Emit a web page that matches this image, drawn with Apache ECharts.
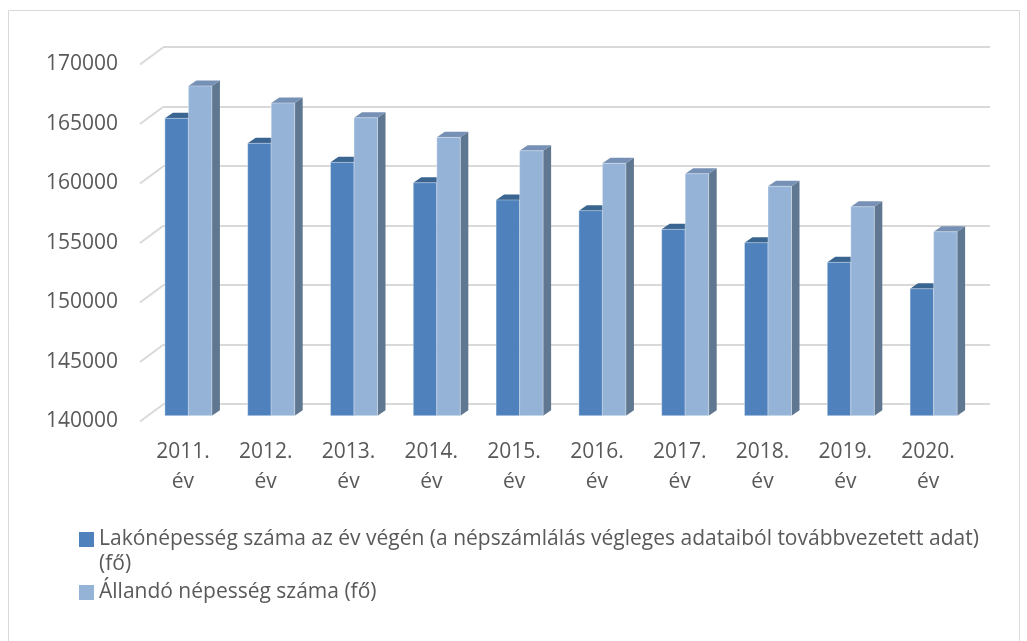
<!DOCTYPE html>
<html>
<head>
<meta charset="utf-8">
<script src="https://cdn.jsdelivr.net/npm/echarts@6/dist/echarts.min.js"></script>
<style>
html,body{margin:0;padding:0;background:#fff;}
#chart{width:1027px;height:641px;}
</style>
</head>
<body>
<div id="chart"></div>
<script>
// ---- data ----
const categories = ['2011.\név', '2012.\név', '2013.\név', '2014.\név', '2015.\név', '2016.\név', '2017.\név', '2018.\név', '2019.\név', '2020.\név'];
const seriesNames = ['Lakónépesség száma az év végén (a népszámlálás végleges adataiból továbbvezetett adat) (fő)', 'Állandó népesség száma (fő)'];
const lakonepesseg = [164990, 162890, 161290, 159580, 158130, 157230, 155660, 154540, 152890, 150670];
const allando = [167710, 166280, 165040, 163390, 162270, 161210, 160340, 159280, 157560, 155460];
const yMin = 140000, yMax = 170000, yStep = 5000;
const yTicks = [140000, 145000, 150000, 155000, 160000, 165000, 170000];

const FONT = 'Open Sans';
const TXT = '#595959';
const GRID = '#D9D9D9';

const styles = [
  {front: '#4F81BD', top: '#3A6590', side: '#3A5A80', edge: 'rgba(255,255,255,0.35)'},
  {front: '#95B3D7', top: '#7691B5', side: '#5F7790', edge: 'rgba(255,255,255,0.35)'}
];

function barRender(idx) {
  const c = styles[idx];
  return function (params, api) {
    const cat = api.value(0), val = api.value(1);
    const top = api.coord([cat, val]);
    const base = api.coord([cat, yMin]);
    const band = api.size([1, 0])[0];
    const w = band * 0.284;
    const x0 = idx === 0 ? top[0] - w : top[0];
    const x1 = x0 + w;
    const dx = 8, dy = -5.5;
    return {
      type: 'group',
      children: [
        {type: 'polygon', shape: {points: [[x1, top[1]], [x1 + dx, top[1] + dy], [x1 + dx, base[1] + dy], [x1, base[1]]]}, style: {fill: c.side}},
        {type: 'polygon', shape: {points: [[x0, top[1]], [x0 + dx, top[1] + dy], [x1 + dx, top[1] + dy], [x1, top[1]]]}, style: {fill: c.top}},
        {type: 'rect', shape: {x: x0, y: top[1], width: w, height: base[1] - top[1]}, style: {fill: c.front, stroke: c.edge, lineWidth: 1}}
      ]
    };
  };
}

const chart = echarts.init(document.getElementById('chart'), null, {renderer: 'canvas'});
const option = {
  backgroundColor: '#fff',
  animation: false,
  textStyle: {fontFamily: FONT},
  graphic: [
    {type: 'polyline', silent: true, shape: {points: [[8.5, 660], [8.5, 10.5], [1019.5, 10.5], [1019.5, 660]]}, style: {stroke: GRID, lineWidth: 1, fill: null}}
  ],
  grid: [
    {left: 140, right: 60, top: 64.5, height: 357},   // front plane (axis labels)
    {left: 163, right: 37, top: 47, height: 357},   // back wall (gridlines)
    {left: 147, right: 52, top: 58.7, height: 357}  // bar plane
  ],
  xAxis: [
    {gridIndex: 0, type: 'value', min: 0, max: 1, show: false},
    {gridIndex: 1, type: 'value', min: 0, max: 1, show: false},
    {gridIndex: 2, type: 'category', data: categories,
      axisLine: {show: false}, axisTick: {show: false},
      axisLabel: {color: TXT, fontSize: 21, fontFamily: FONT, lineHeight: 30, margin: 21, interval: 0, padding: [0, 11, 0, 0]}}
  ],
  yAxis: [
    {gridIndex: 0, type: 'value', min: yMin, max: yMax, interval: yStep,
      axisLine: {show: false}, axisTick: {show: false}, splitLine: {show: false},
      axisLabel: {color: TXT, fontSize: 21, fontFamily: FONT, margin: 22, formatter: v => String(v)}},
    {gridIndex: 1, type: 'value', min: yMin, max: yMax, interval: yStep,
      axisLine: {show: false}, axisTick: {show: false}, axisLabel: {show: false},
      splitLine: {show: true, lineStyle: {color: GRID, width: 2}}},
    {gridIndex: 2, type: 'value', min: yMin, max: yMax, interval: yStep, show: false}
  ],
  legend: [
    {data: [{name: seriesNames[0], icon: 'path://M0 5H15V20H0Z M0 0L0 0Z M15 50L15 50Z'}],
      left: 79, top: 527, padding: 0, itemWidth: 15, itemHeight: 50, selectedMode: false,
      formatter: n => n.replace(' (fő)', '\n(fő)'),
      textStyle: {color: TXT, fontSize: 21, fontFamily: FONT, lineHeight: 25}},
    {data: [{name: seriesNames[1], icon: 'rect'}],
      left: 79, top: 580, padding: 0, itemWidth: 15, itemHeight: 15, selectedMode: false,
      textStyle: {color: TXT, fontSize: 21, fontFamily: FONT, lineHeight: 25}}
  ],
  series: [
    {type: 'custom', name: 'depth', xAxisIndex: 0, yAxisIndex: 0, silent: true,
      data: yTicks.map(v => [0, v]),
      renderItem: function (params, api) {
        const p = api.coord([0, api.value(1)]);
        return {type: 'line', shape: {x1: p[0], y1: p[1], x2: p[0] + 23, y2: p[1] - 17}, style: {stroke: GRID, lineWidth: 2}};
      }},
    {type: 'custom', name: seriesNames[0], xAxisIndex: 2, yAxisIndex: 2,
      itemStyle: {color: styles[0].front},
      encode: {x: 0, y: 1},
      data: lakonepesseg.map((v, i) => [i, v]),
      renderItem: barRender(0)},
    {type: 'custom', name: seriesNames[1], xAxisIndex: 2, yAxisIndex: 2,
      itemStyle: {color: styles[1].front},
      encode: {x: 0, y: 1},
      data: allando.map((v, i) => [i, v]),
      renderItem: barRender(1)}
  ]
};
chart.setOption(option);
</script>
</body>
</html>
